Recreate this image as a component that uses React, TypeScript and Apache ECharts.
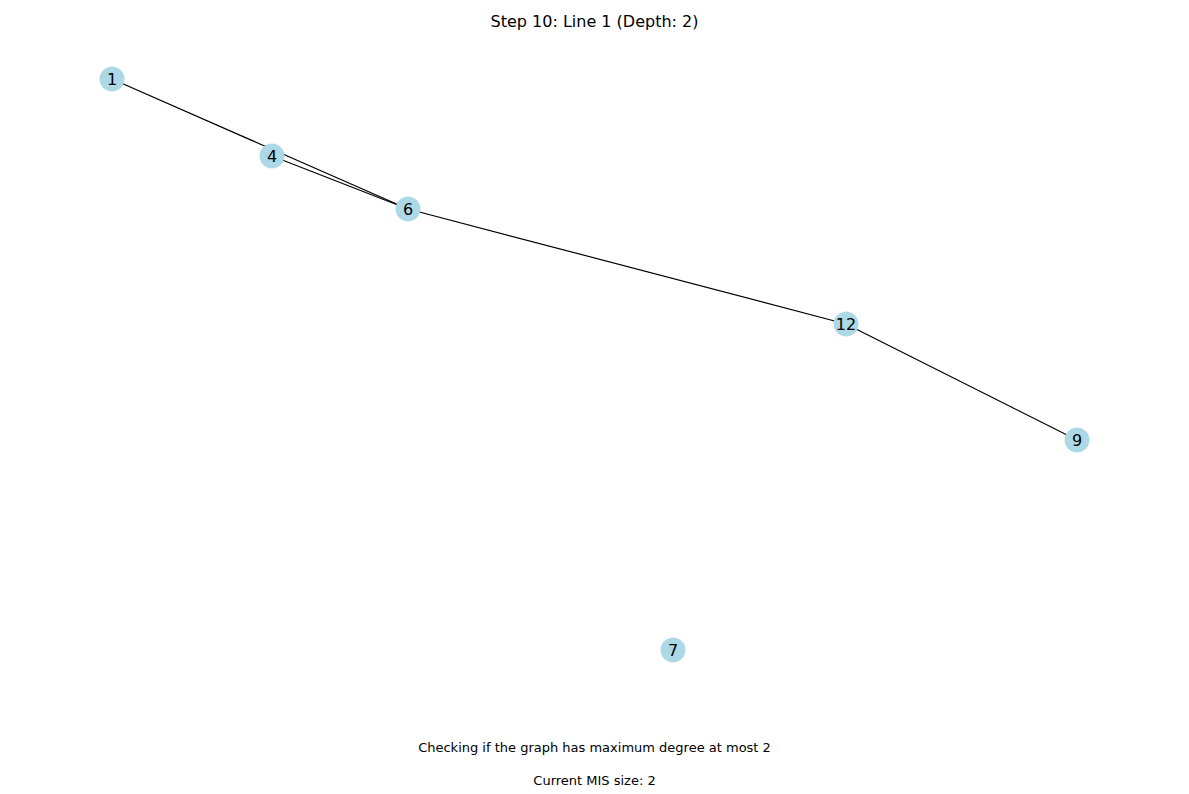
import { useEffect, useRef } from 'react';
import * as echarts from 'echarts';

const nodeNames = ['1', '4', '6', '12', '9', '7'];
const nodeX = [112, 272, 408, 846, 1077, 673];
const nodeY = [79, 156, 209, 324, 440, 650];
const edges: [string, string][] = [
  ['1', '6'],
  ['4', '6'],
  ['6', '12'],
  ['12', '9'],
];

const App = () => {
  const chartRef = useRef<HTMLDivElement>(null);

  useEffect(() => {
    if (!chartRef.current) return;
    const chart = echarts.init(chartRef.current, null, { renderer: 'svg' });

    const option: echarts.EChartsOption = {
      animation: false,
      backgroundColor: '#ffffff',
      textStyle: { fontFamily: 'DejaVu Sans' },
      title: [
        { text: 'Step 10: Line 1 (Depth: 2)', left: 'center', top: 8, textStyle: { fontSize: 16, fontWeight: 'normal', color: '#000' } },
        { text: 'Checking if the graph has maximum degree at most 2', left: 'center', top: 736, textStyle: { fontSize: 13, fontWeight: 'normal', color: '#000' } },
        { text: 'Current MIS size: 2', left: 'center', top: 769, textStyle: { fontSize: 13, fontWeight: 'normal', color: '#000' } },
      ],
      grid: { left: 0, right: 0, top: 0, bottom: 0 },
      xAxis: { type: 'value', min: 0, max: 1189, show: false },
      yAxis: { type: 'value', min: 0, max: 794, inverse: true, show: false },
      series: [
        {
          type: 'graph',
          coordinateSystem: 'cartesian2d',
          symbolSize: 25,
          itemStyle: { color: '#add8e6' },
          label: { show: true, position: 'inside', fontSize: 16, color: '#000' },
          lineStyle: { color: '#000', width: 1.2, opacity: 1 },
          data: nodeNames.map((n, i) => ({ name: n, value: [nodeX[i], nodeY[i]] })),
          links: edges.map(([s, t]) => ({ source: s, target: t })),
        },
      ],
    };

    chart.setOption(option);
    return () => chart.dispose();
  }, []);

  return <div ref={chartRef} style={{ position: 'absolute', left: 0, top: 0, width: 1189, height: 794 }} />;
};

export default App;
